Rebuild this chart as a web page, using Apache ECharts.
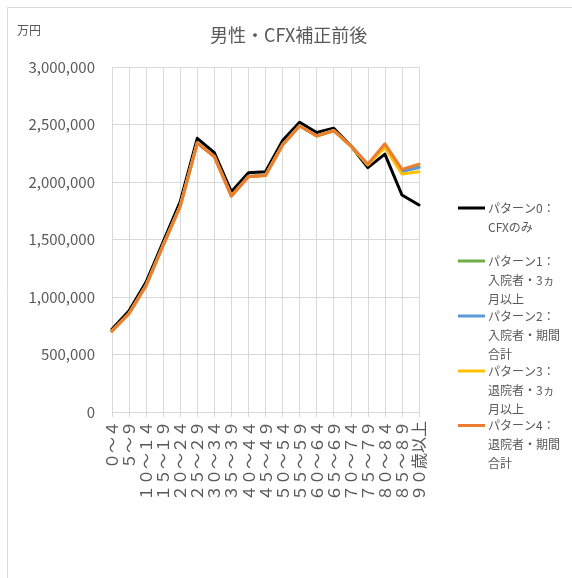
<!DOCTYPE html>
<html>
<head>
<meta charset="utf-8">
<script src="https://cdn.jsdelivr.net/npm/echarts@6/dist/echarts.min.js"></script>
<style>
  html, body { margin: 0; padding: 0; background: #ffffff; }
  #chart { width: 572px; height: 578px; }
</style>
</head>
<body>
<div id="chart"></div>
<script>
// Age bands (years)
const ageBands = ['０～４', '５～９', '１０～１４', '１５～１９', '２０～２４', '２５～２９', '３０～３４',
  '３５～３９', '４０～４４', '４５～４９', '５０～５４', '５５～５９', '６０～６４', '６５～６９',
  '７０～７４', '７５～７９', '８０～８４', '８５～８９', '９０歳以上'];

// Amounts per age band (万円)
const pattern0 = [720000, 880000, 1130000, 1480000, 1830000, 2380000, 2255000, 1915000, 2080000, 2090000,
  2360000, 2520000, 2430000, 2468000, 2315000, 2125000, 2242000, 1887000, 1800000];
const pattern1 = [706000, 857000, 1101000, 1451000, 1791000, 2340000, 2222000, 1880000, 2048000, 2058000,
  2324000, 2489000, 2402000, 2448000, 2315000, 2150000, 2318000, 2095000, 2130000];
const pattern2 = [706000, 857000, 1101000, 1451000, 1791000, 2340000, 2222000, 1880000, 2048000, 2058000,
  2324000, 2489000, 2402000, 2448000, 2315000, 2152000, 2322000, 2090000, 2125000];
const pattern3 = [705000, 856000, 1100000, 1450000, 1790000, 2338000, 2220000, 1878000, 2046000, 2056000,
  2322000, 2487000, 2400000, 2446000, 2312000, 2148000, 2300000, 2070000, 2090000];
const pattern4 = [705000, 856000, 1100000, 1450000, 1790000, 2338000, 2220000, 1878000, 2046000, 2056000,
  2322000, 2487000, 2400000, 2446000, 2315000, 2155000, 2332000, 2110000, 2155000];

// Y axis ticks
const yMin = 0, yMax = 3000000, yStep = 500000;

const seriesNames = ['パターン0：CFXのみ', 'パターン1：入院者・3ヵ月以上', 'パターン2：入院者・期間合計',
  'パターン3：退院者・3ヵ月以上', 'パターン4：退院者・期間合計'];
// Legend text, wrapped as it is shown
const legendLines = [
  ['パターン0：', 'CFXのみ'],
  ['パターン1：', '入院者・3ヵ', '月以上'],
  ['パターン2：', '入院者・期間', '合計'],
  ['パターン3：', '退院者・3ヵ', '月以上'],
  ['パターン4：', '退院者・期間', '合計']
];
const seriesData = [pattern0, pattern1, pattern2, pattern3, pattern4];
const colors = ['#000000', '#70ad47', '#5b9bd5', '#ffc000', '#ed7d31'];

const FONT = '"Noto Sans CJK JP", "Noto Sans", sans-serif';
const TEXT = '#595959';
const GRID = '#d9d9d9';
const LINE_H = 19;
const legendCenters = [208, 261, 316, 371, 425.5];

// One legend block per series; blank lines above keep the first line level with the swatch
const legends = seriesNames.map((name, i) => {
  const lines = legendLines[i];
  const pad = lines.length - 1;
  const n = lines.length + pad;
  return {
    data: [name],
    left: 458,
    top: legendCenters[i] - n * LINE_H / 2,
    padding: 0,
    orient: 'vertical',
    icon: 'rect',
    itemWidth: 27,
    itemHeight: 3,
    itemGap: 0,
    selectedMode: false,
    formatter: () => new Array(pad).fill('').concat(lines).join('\n'),
    textStyle: { color: TEXT, fontSize: 12, fontFamily: FONT, lineHeight: LINE_H, padding: [0, 0, 0, -2] }
  };
});

const chart = echarts.init(document.getElementById('chart'), null, { renderer: 'canvas' });

chart.setOption({
  animation: false,
  backgroundColor: '#ffffff',
  color: colors,
  textStyle: { fontFamily: FONT },
  title: [
    {
      text: '男性・CFX補正前後',
      left: 210,
      top: 26,
      padding: 0,
      textStyle: { color: TEXT, fontSize: 18, fontWeight: 'normal', fontFamily: FONT }
    },
    {
      text: '万円',
      left: 17,
      top: 24,
      padding: 0,
      textStyle: { color: TEXT, fontSize: 12, fontWeight: 'normal', fontFamily: FONT }
    }
  ],
  graphic: [
    {
      type: 'rect',
      silent: true,
      shape: { x: 7.5, y: 7.5, width: 700, height: 700 },
      style: { fill: 'none', stroke: GRID, lineWidth: 1 }
    }
  ],
  legend: legends,
  grid: { left: 112, right: 153, top: 67, bottom: 166, containLabel: false },
  xAxis: {
    type: 'category',
    data: ageBands,
    boundaryGap: false,
    axisLine: { show: true, lineStyle: { color: GRID, width: 1 } },
    axisTick: { show: true, length: 5, lineStyle: { color: GRID } },
    splitLine: { show: true, lineStyle: { color: GRID, width: 1 } },
    axisLabel: {
      interval: 0,
      rotate: 90,
      margin: 9,
      color: TEXT,
      fontSize: 16,
      fontFamily: FONT
    }
  },
  yAxis: {
    type: 'value',
    min: yMin,
    max: yMax,
    interval: yStep,
    axisLine: { show: false },
    axisTick: { show: false },
    splitLine: { show: true, lineStyle: { color: GRID, width: 1 } },
    axisLabel: {
      margin: 17,
      color: TEXT,
      fontSize: 15,
      fontFamily: FONT,
      formatter: v => v.toLocaleString('en-US')
    }
  },
  series: seriesNames.map((name, i) => ({
    name,
    type: 'line',
    data: seriesData[i],
    showSymbol: false,
    symbol: 'none',
    smooth: false,
    z: 2 + i,
    lineStyle: { color: colors[i], width: 3, join: 'round', cap: 'round' },
    itemStyle: { color: colors[i] }
  }))
});
</script>
</body>
</html>
